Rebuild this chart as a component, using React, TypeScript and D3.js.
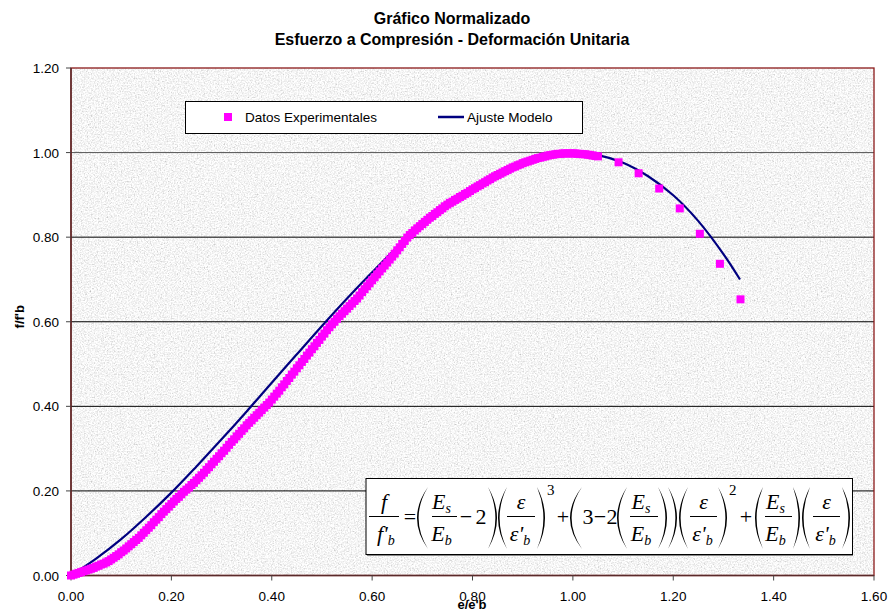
import React from "react";
import * as d3 from "d3";

const width = 889;
const height = 612;
const margin = { top: 68, left: 71, bottom: 36.5, right: 15 };

const titleLines = ["Gráfico Normalizado", "Esfuerzo a Compresión - Deformación Unitaria"];
const xLabel = "e/e'b";
const yLabel = "f/f'b";
const seriesNames = ["Datos Experimentales", "Ajuste Modelo"];

const xTicks = [0, 0.2, 0.4, 0.6, 0.8, 1.0, 1.2, 1.4, 1.6];
const yTicks = [0, 0.2, 0.4, 0.6, 0.8, 1.0, 1.2];

const expX = [
  0, 0.005, 0.01, 0.015, 0.02, 0.025, 0.03, 0.035, 0.04, 0.045,
  0.05, 0.055, 0.06, 0.065, 0.07, 0.075, 0.08, 0.085, 0.09, 0.095,
  0.1, 0.105, 0.11, 0.115, 0.12, 0.125, 0.13, 0.135, 0.14, 0.145,
  0.15, 0.155, 0.16, 0.165, 0.17, 0.175, 0.18, 0.185, 0.19, 0.195,
  0.2, 0.205, 0.21, 0.215, 0.22, 0.225, 0.23, 0.235, 0.24, 0.245,
  0.25, 0.255, 0.26, 0.265, 0.27, 0.275, 0.28, 0.285, 0.29, 0.295,
  0.3, 0.305, 0.31, 0.315, 0.32, 0.325, 0.33, 0.335, 0.34, 0.345,
  0.35, 0.355, 0.36, 0.365, 0.37, 0.375, 0.38, 0.385, 0.39, 0.395,
  0.4, 0.405, 0.41, 0.415, 0.42, 0.425, 0.43, 0.435, 0.44, 0.445,
  0.45, 0.455, 0.46, 0.465, 0.47, 0.475, 0.48, 0.485, 0.49, 0.495,
  0.5, 0.505, 0.51, 0.515, 0.52, 0.525, 0.53, 0.535, 0.54, 0.545,
  0.55, 0.555, 0.56, 0.565, 0.57, 0.575, 0.58, 0.585, 0.59, 0.595,
  0.6, 0.605, 0.61, 0.615, 0.62, 0.625, 0.63, 0.635, 0.64, 0.645,
  0.65, 0.655, 0.66, 0.665, 0.67, 0.675, 0.68, 0.685, 0.69, 0.695,
  0.7, 0.705, 0.71, 0.715, 0.72, 0.725, 0.73, 0.735, 0.74, 0.745,
  0.75, 0.755, 0.76, 0.765, 0.77, 0.775, 0.78, 0.785, 0.79, 0.795,
  0.8, 0.805, 0.81, 0.815, 0.82, 0.825, 0.83, 0.835, 0.84, 0.845,
  0.85, 0.855, 0.86, 0.865, 0.87, 0.875, 0.88, 0.885, 0.89, 0.895,
  0.9, 0.905, 0.91, 0.915, 0.92, 0.925, 0.93, 0.935, 0.94, 0.945,
  0.95, 0.955, 0.96, 0.965, 0.97, 0.975, 0.98, 0.985, 0.99, 0.995,
  1.0, 1.005, 1.01, 1.015, 1.02, 1.025, 1.03, 1.035, 1.04, 1.045,
  1.05,
  1.091, 1.131, 1.172, 1.213, 1.253, 1.293, 1.334,
];
const expY = [
  0, 0.002, 0.004, 0.006, 0.008, 0.01, 0.012, 0.014, 0.016, 0.018,
  0.021, 0.023, 0.026, 0.028, 0.031, 0.034, 0.038, 0.042, 0.046, 0.05,
  0.055, 0.059, 0.064, 0.069, 0.074, 0.079, 0.084, 0.089, 0.095, 0.101,
  0.107, 0.113, 0.119, 0.126, 0.132, 0.138, 0.145, 0.151, 0.157, 0.163,
  0.169, 0.175, 0.181, 0.186, 0.192, 0.198, 0.203, 0.208, 0.214, 0.219,
  0.225, 0.231, 0.237, 0.243, 0.25, 0.256, 0.263, 0.269, 0.276, 0.282,
  0.289, 0.295, 0.302, 0.309, 0.316, 0.322, 0.329, 0.335, 0.342, 0.348,
  0.355, 0.361, 0.367, 0.373, 0.379, 0.385, 0.391, 0.397, 0.403, 0.409,
  0.416, 0.423, 0.43, 0.437, 0.445, 0.452, 0.46, 0.467, 0.475, 0.482,
  0.49, 0.497, 0.505, 0.512, 0.52, 0.527, 0.535, 0.542, 0.55, 0.557,
  0.565, 0.572, 0.58, 0.587, 0.594, 0.6, 0.607, 0.613, 0.619, 0.625,
  0.631, 0.637, 0.643, 0.649, 0.655, 0.662, 0.67, 0.677, 0.684, 0.691,
  0.698, 0.705, 0.712, 0.719, 0.726, 0.733, 0.74, 0.747, 0.754, 0.761,
  0.769, 0.776, 0.784, 0.791, 0.799, 0.805, 0.81, 0.816, 0.821, 0.826,
  0.831, 0.836, 0.841, 0.846, 0.85, 0.855, 0.859, 0.864, 0.868, 0.873,
  0.877, 0.881, 0.884, 0.888, 0.891, 0.895, 0.898, 0.902, 0.905, 0.909,
  0.913, 0.916, 0.92, 0.923, 0.927, 0.93, 0.934, 0.937, 0.941, 0.944,
  0.947, 0.95, 0.953, 0.956, 0.959, 0.962, 0.965, 0.967, 0.97, 0.972,
  0.975, 0.977, 0.979, 0.981, 0.983, 0.985, 0.987, 0.988, 0.99, 0.991,
  0.993, 0.994, 0.995, 0.996, 0.997, 0.997, 0.998, 0.998, 0.998, 0.998,
  0.998, 0.998, 0.997, 0.997, 0.996, 0.996, 0.995, 0.994, 0.993, 0.992,
  0.991,
  0.977, 0.951, 0.915, 0.868, 0.808, 0.737, 0.653,
];

// curva del ajuste modelo
const modelX = [
  0, 0.05, 0.1, 0.15, 0.2, 0.25, 0.3, 0.35, 0.4, 0.45, 0.5, 0.55, 0.6, 0.65,
  0.7, 0.75, 0.8, 0.85, 0.9, 0.95, 1.0, 1.05, 1.1, 1.15, 1.2, 1.25, 1.3, 1.333,
];
const modelY = [
  0, 0.04, 0.086, 0.139, 0.196, 0.258, 0.322, 0.388, 0.456, 0.523, 0.59, 0.655,
  0.717, 0.776, 0.829, 0.878, 0.919, 0.953, 0.979, 0.995, 1.0, 0.994, 0.976,
  0.944, 0.899, 0.838, 0.76, 0.7,
];

const pink = "#ff00ff";
const navy = "#000080";
const sans = "'Liberation Sans', Arial, sans-serif";
const serif = "'Liberation Serif', 'Times New Roman', serif";

const x = d3
  .scaleLinear()
  .domain([0, 1.6])
  .range([margin.left, width - margin.right]);
const y = d3
  .scaleLinear()
  .domain([0, 1.2])
  .range([height - margin.bottom, margin.top]);

const fmt = d3.format(".2f");

function Paren({ a, b, right }: { a: number; b: number; right?: boolean }) {
  const top = 487;
  const bot = 549;
  const mid = (top + bot) / 2;
  if (!right) {
    const c = 2 * a - b;
    return (
      <path
        d={`M${b},${top} Q${c},${mid} ${b},${bot} Q${c + 3.2},${mid} ${b},${top} Z`}
        fill="#000"
      />
    );
  }
  const c = 2 * b - a;
  return (
    <path
      d={`M${a},${top} Q${c},${mid} ${a},${bot} Q${c - 3.2},${mid} ${a},${top} Z`}
      fill="#000"
    />
  );
}

function FracE({ x0, x1 }: { x0: number; x1: number }) {
  const cx = (x0 + x1) / 2 - 3;
  return (
    <g>
      <text x={cx} y={509} textAnchor="middle" fontStyle="italic">
        E<tspan fontSize={14} dy={4}>s</tspan>
      </text>
      <line x1={x0} x2={x1} y1={516.5} y2={516.5} stroke="#000" strokeWidth={1} />
      <text x={cx} y={541} textAnchor="middle" fontStyle="italic">
        E<tspan fontSize={14} dy={4}>b</tspan>
      </text>
    </g>
  );
}

function FracEps({ x0, x1 }: { x0: number; x1: number }) {
  const cx = (x0 + x1) / 2;
  return (
    <g>
      <text x={cx} y={509} textAnchor="middle" fontStyle="italic">
        ε
      </text>
      <line x1={x0} x2={x1} y1={516.5} y2={516.5} stroke="#000" strokeWidth={1} />
      <text x={cx - 1} y={541} textAnchor="middle" fontStyle="italic">
        ε'<tspan fontSize={14} dy={4}>b</tspan>
      </text>
    </g>
  );
}

function Equation() {
  return (
    <g fontFamily={serif} fontSize={22} fill="#000">
      <rect x={366} y={478.5} width={486.5} height={76} fill="#fff" stroke="#000" strokeWidth={1} />
      <line x1={367} x2={853} y1={555.5} y2={555.5} stroke="#888" strokeWidth={1} />
      <text x={384} y={509} textAnchor="middle" fontStyle="italic">f</text>
      <line x1={369} x2={399} y1={516.5} y2={516.5} stroke="#000" strokeWidth={1} />
      <text x={377} y={541} fontStyle="italic">
        f'<tspan fontSize={14} dy={4}>b</tspan>
      </text>
      <text x={410} y={524} textAnchor="middle">=</text>
      <Paren a={417} b={428} />
      <FracE x0={432} x1={457} />
      <text x={466} y={524} textAnchor="middle">−</text>
      <text x={481} y={524} textAnchor="middle">2</text>
      <Paren a={488} b={497} right />
      <Paren a={498} b={507} />
      <FracEps x0={507} x1={535} />
      <Paren a={537} b={545} right />
      <text x={547} y={495} fontSize={15}>3</text>
      <text x={563} y={524} textAnchor="middle">+</text>
      <Paren a={570} b={582} />
      <text x={588} y={524} textAnchor="middle">3</text>
      <text x={600} y={524} textAnchor="middle">−</text>
      <text x={612} y={524} textAnchor="middle">2</text>
      <Paren a={617} b={627} />
      <FracE x0={630} x1={658} />
      <Paren a={658} b={667} right />
      <Paren a={668} b={677} right />
      <Paren a={679} b={688} />
      <FracEps x0={690} x1={717} />
      <Paren a={718} b={727} right />
      <text x={729} y={495} fontSize={15}>2</text>
      <text x={746} y={524} textAnchor="middle">+</text>
      <Paren a={755} b={763} />
      <FracE x0={765} x1={792} />
      <Paren a={793} b={800} right />
      <Paren a={802} b={810} />
      <FracEps x0={813} x1={840} />
      <Paren a={842} b={850} right />
    </g>
  );
}

export default function App() {
  const pw = x(1.6) - x(0);
  const ph = y(0) - y(1.2);
  const modelPts = modelX.map((v, i) => [v, modelY[i]] as [number, number]);
  const line = d3
    .line<[number, number]>()
    .x((d) => x(d[0]))
    .y((d) => y(d[1]))
    .curve(d3.curveCatmullRom);
  const sq = 8;

  return (
    <svg
      width={width}
      height={height}
      style={{ position: "absolute", left: 0, top: 0, background: "#fff" }}
    >
      <defs>
        <filter id="granite" x="0" y="0" width="1" height="1">
          <feTurbulence type="fractalNoise" baseFrequency="0.7" numOctaves={3} seed={7} result="n" />
          <feColorMatrix
            in="n"
            type="matrix"
            values="0.33 0.33 0.33 0 0  0.33 0.33 0.33 0 0  0.33 0.33 0.33 0 0  0 0 0 0 1"
            result="g"
          />
          <feComponentTransfer in="g">
            <feFuncR type="linear" slope={1.3} intercept={0.27} />
            <feFuncG type="linear" slope={1.3} intercept={0.27} />
            <feFuncB type="linear" slope={1.3} intercept={0.27} />
          </feComponentTransfer>
        </filter>
        <clipPath id="plot">
          <rect x={x(0)} y={y(1.2)} width={pw} height={ph} />
        </clipPath>
      </defs>

      {/* titulo */}
      <g fontFamily={sans} fontWeight="bold" fontSize={16} textAnchor="middle">
        <text x={452} y={24}>{titleLines[0]}</text>
        <text x={452} y={45}>{titleLines[1]}</text>
      </g>

      {/* area del grafico */}
      <rect x={x(0)} y={y(1.2)} width={pw} height={ph} fill="#e9e9e9" />
      <rect x={x(0)} y={y(1.2)} width={pw} height={ph} fill="#fff" filter="url(#granite)" />

      {yTicks
        .filter((t) => t > 0 && t < 1.2)
        .map((t) => (
          <line
            key={t}
            x1={x(0)}
            x2={x(1.6)}
            y1={y(t)}
            y2={y(t)}
            stroke={t === 1 ? "#555" : "#000"}
            strokeWidth={1}
          />
        ))}

      <rect x={x(0)} y={y(1.2)} width={pw} height={ph} fill="none" stroke="#8b1a1a" strokeWidth={1.3} />
      <line x1={x(0)} x2={x(0)} y1={y(0)} y2={y(1.2)} stroke="#5a2a2a" strokeWidth={1.5} />
      <line x1={x(0)} x2={x(1.6)} y1={y(0)} y2={y(0)} stroke="#5a2a2a" strokeWidth={1.5} />

      {/* ejes */}
      <g fontFamily={sans} fontSize={13.5} fill="#000">
        {yTicks.map((t) => (
          <g key={t}>
            <line x1={x(0) - 5} x2={x(0)} y1={y(t)} y2={y(t)} stroke="#444" />
            <text x={x(0) - 12} y={y(t) + 5} textAnchor="end">
              {fmt(t)}
            </text>
          </g>
        ))}
        {xTicks.map((t) => (
          <g key={t}>
            <line x1={x(t)} x2={x(t)} y1={y(0)} y2={y(0) + 5} stroke="#444" />
            <text x={x(t)} y={y(0) + 25} textAnchor="middle">
              {fmt(t)}
            </text>
          </g>
        ))}
      </g>
      <text
        x={472}
        y={609}
        textAnchor="middle"
        fontFamily={sans}
        fontWeight="bold"
        fontSize={13}
      >
        {xLabel}
      </text>
      <text
        transform={`translate(24,${(y(0) + y(1.2)) / 2 - 5}) rotate(-90)`}
        textAnchor="middle"
        fontFamily={sans}
        fontWeight="bold"
        fontSize={13}
      >
        {yLabel}
      </text>

      {/* series */}
      <g clipPath="url(#plot)">
        <path d={line(modelPts) || ""} fill="none" stroke={navy} strokeWidth={2.2} />
      </g>
      <g>
        {expX.map((v, i) => (
          <rect
            key={i}
            x={x(v) - sq / 2}
            y={y(expY[i]) - sq / 2}
            width={sq}
            height={sq}
            fill={pink}
          />
        ))}
      </g>

      {/* leyenda */}
      <g fontFamily={sans} fontSize={13.5}>
        <rect x={185.5} y={101.5} width={397} height={32} fill="#fff" stroke="#000" strokeWidth={1} />
        <rect x={224} y={113} width={8} height={8} fill={pink} />
        <text x={245} y={122}>{seriesNames[0]}</text>
        <line x1={438} x2={464} y1={117} y2={117} stroke={navy} strokeWidth={2.5} />
        <text x={467} y={122}>{seriesNames[1]}</text>
      </g>

      <Equation />
    </svg>
  );
}
